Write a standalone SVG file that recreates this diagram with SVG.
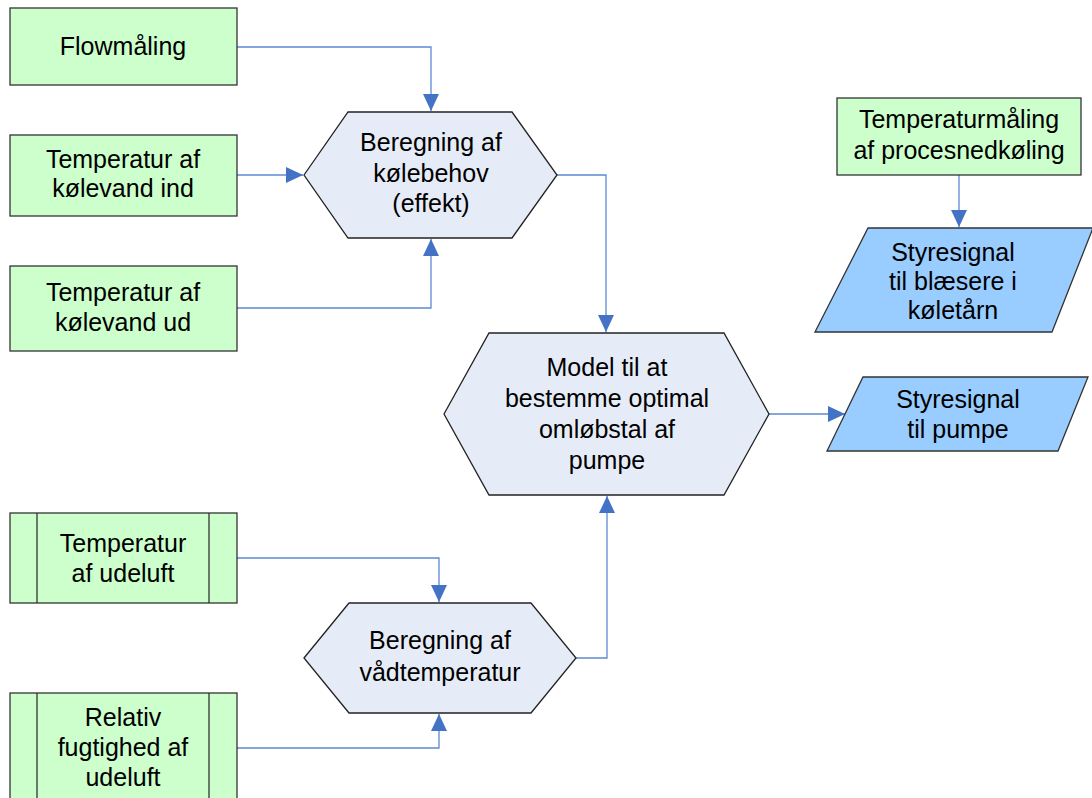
<svg xmlns="http://www.w3.org/2000/svg" width="1092" height="798" viewBox="0 0 1092 798">
<style>
text{font-family:"Liberation Sans",Arial,sans-serif;font-size:25px;fill:#000;text-anchor:middle}
.g{fill:#CCFFCC;stroke:#333;stroke-width:1.3}
.h{fill:#E6ECF7;stroke:#222;stroke-width:1.3}
.p{fill:#99CCFF;stroke:#333;stroke-width:1.3}
.c{fill:none;stroke:#5B8BD0;stroke-width:1.3}
</style>
<defs>
<marker id="b" markerWidth="17" markerHeight="16" refX="17" refY="8" orient="auto" markerUnits="userSpaceOnUse" viewBox="0 0 17 16">
<path d="M0,0 L17,8 L0,16 Z" fill="#4472C4"/>
</marker>
</defs>
<g id="connectors">
<path class="c" d="M237,47 H431 V111" marker-end="url(#b)"/>
<path class="c" d="M237,175 H303" marker-end="url(#b)"/>
<path class="c" d="M237,308 H431 V239" marker-end="url(#b)"/>
<path class="c" d="M557,175 H606 V332" marker-end="url(#b)"/>
<path class="c" d="M769,414 H845" marker-end="url(#b)"/>
<path class="c" d="M959,175 V227" marker-end="url(#b)"/>
<path class="c" d="M237,558 H439 V602" marker-end="url(#b)"/>
<path class="c" d="M237,748 H439 V714" marker-end="url(#b)"/>
<path class="c" d="M576,658 H607 V496" marker-end="url(#b)"/>
</g>
<g id="flowmaaling">
<rect class="g" x="10" y="8" width="227" height="77"/>
<text x="123" y="55">Flowmåling</text>
</g>
<g id="temp-ind">
<rect class="g" x="10" y="135" width="227" height="81"/>
<text x="123" y="168">Temperatur af</text>
<text x="123" y="197">kølevand ind</text>
</g>
<g id="temp-ud">
<rect class="g" x="10" y="266" width="227" height="85"/>
<text x="123" y="301">Temperatur af</text>
<text x="123" y="331">kølevand ud</text>
</g>
<g id="beregning-kolebehov">
<polygon class="h" points="304,175 348,112 512,112 557,175 512,238 348,238"/>
<text x="431" y="151">Beregning af</text>
<text x="431" y="182">kølebehov</text>
<text x="431" y="212">(effekt)</text>
</g>
<g id="model">
<polygon class="h" points="444,414 489,333 724,333 769,414 724,495 489,495"/>
<text x="607" y="376">Model til at</text>
<text x="607" y="407">bestemme optimal</text>
<text x="607" y="438">omløbstal af</text>
<text x="607" y="469">pumpe</text>
</g>
<g id="temp-proces">
<rect class="g" x="837" y="98" width="244" height="77"/>
<text x="959" y="128">Temperaturmåling</text>
<text x="959" y="159">af procesnedkøling</text>
</g>
<g id="styresignal-blaesere">
<polygon class="p" points="868,228 1093,228 1052,332 815,332"/>
<text x="953" y="261">Styresignal</text>
<text x="953" y="290">til blæsere i</text>
<text x="953" y="319">køletårn</text>
</g>
<g id="styresignal-pumpe">
<polygon class="p" points="863,377 1088,377 1058,451 827,451"/>
<text x="958" y="408">Styresignal</text>
<text x="958" y="438">til pumpe</text>
</g>
<g id="temp-udeluft">
<rect class="g" x="10" y="513" width="227" height="90"/>
<line class="g" x1="37" y1="513" x2="37" y2="603"/>
<line class="g" x1="209" y1="513" x2="209" y2="603"/>
<text x="123" y="552">Temperatur</text>
<text x="123" y="582">af udeluft</text>
</g>
<g id="relativ-fugtighed">
<rect class="g" x="10" y="693" width="227" height="120"/>
<line class="g" x1="37" y1="693" x2="37" y2="813"/>
<line class="g" x1="209" y1="693" x2="209" y2="813"/>
<text x="123" y="726">Relativ</text>
<text x="123" y="756">fugtighed af</text>
<text x="123" y="786">udeluft</text>
</g>
<g id="beregning-vaadtemp">
<polygon class="h" points="304,658 349,603 531,603 576,658 531,713 349,713"/>
<text x="440" y="649">Beregning af</text>
<text x="440" y="681">vådtemperatur</text>
</g>
</svg>
